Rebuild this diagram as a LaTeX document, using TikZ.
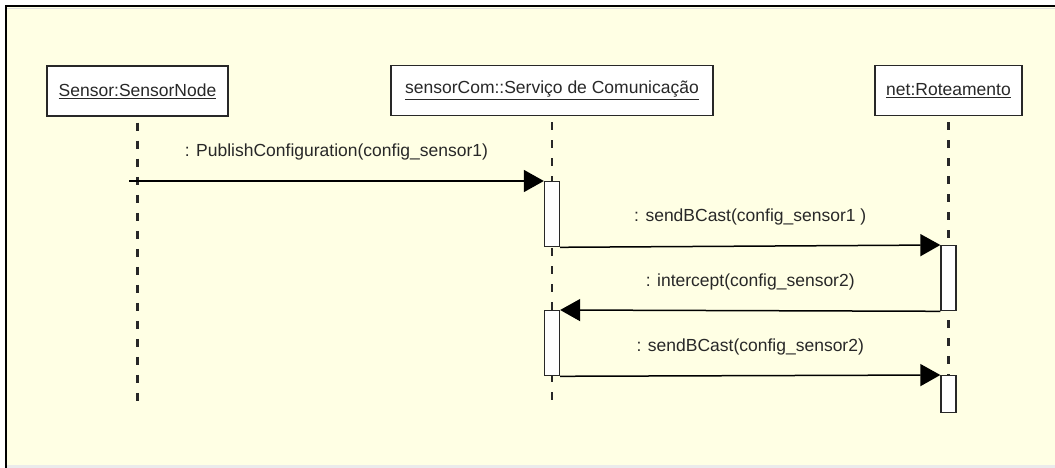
\documentclass[tikz,border=0pt]{standalone}
\usepackage{fontspec}
\setmainfont{Liberation Sans}
\usetikzlibrary{arrows.meta}
\definecolor{umlbg}{RGB}{255,255,228}
\definecolor{umlink}{RGB}{40,40,40}
\tikzset{
  headbox/.style={draw=umlink, line width=1.5pt, fill=white, minimum height=50pt,
    inner sep=0pt, text=umlink, font=\fontsize{17.5}{20}\selectfont},
  actbar/.style={draw=umlink, line width=1.3pt, fill=white, minimum width=15pt,
    inner sep=0pt, anchor=north},
  lifeline/.style={umlink, line width=2.2pt, dash pattern=on 8pt off 10pt, dash phase=12pt},
  msgline/.style={black, line width=1.5pt, -{Triangle[length=20pt,width=22pt]}},
  msglabel/.style={midway, yshift=29pt, inner sep=0pt, text=umlink,
    font=\fontsize{17.5}{20}\selectfont}
}
\begin{document}
\begin{tikzpicture}[x=1pt, y=-1pt]
      \useasboundingbox (0,0) rectangle (1055,468);
      % frame
      \fill[white] (0,0) rectangle (1055,468);
      \fill[umlbg] (7,7) rectangle (1055,465);
      \fill[black!8] (7,465) rectangle (1055,468);
      \draw[black!12, line width=1pt] (7,9) -- (1055,9);
      \draw[black, line width=2pt] (6,468) -- (6,6) -- (1055,6);
      % heads
      \node[headbox, minimum width=181pt] (sensor) at (137.5,91) {\underline{Sensor:SensorNode}};
      \node[headbox, minimum width=322pt] (sensorcom) at (552,90.5) {\underline{sensorCom::Serviço de Comunicação}};
      \node[headbox, minimum width=147pt] (net) at (948.5,90.5) {\underline{net:Roteamento}};
      % lifelines
      \coordinate (sensorend) at (137.5,410);
      \coordinate (sensorcomend) at (552,410);
      \coordinate (netend) at (948.5,412);
      \draw[lifeline] (sensor.south) -- (sensorend);
      \draw[lifeline] (sensorcom.south) -- (sensorcomend);
      \draw[lifeline] (net.south) -- (netend);
      % activations
      \node[actbar, minimum height=65pt] (actcom1) at (552,181) {};
      \node[actbar, minimum height=65pt] (actnet1) at (948.5,245) {};
      \node[actbar, minimum height=65pt] (actcom2) at (552,310) {};
      \node[actbar, minimum height=37pt] (actnet2) at (948.5,375) {};
      % messages
      \coordinate (found) at (129,181);
      \draw[msgline] (found) -- (actcom1.north west)
        node[msglabel] {: PublishConfiguration(config\_sensor1)};
      \draw[msgline] (actcom1.south east) -- (actnet1.north west)
        node[msglabel] {: sendBCast(config\_sensor1 )};
      \draw[msgline] (actnet1.south west) -- (actcom2.north east)
        node[msglabel] {: intercept(config\_sensor2)};
      \draw[msgline] (actcom2.south east) -- (actnet2.north west)
        node[msglabel] {: sendBCast(config\_sensor2)};
    \end{tikzpicture}
\end{document}
